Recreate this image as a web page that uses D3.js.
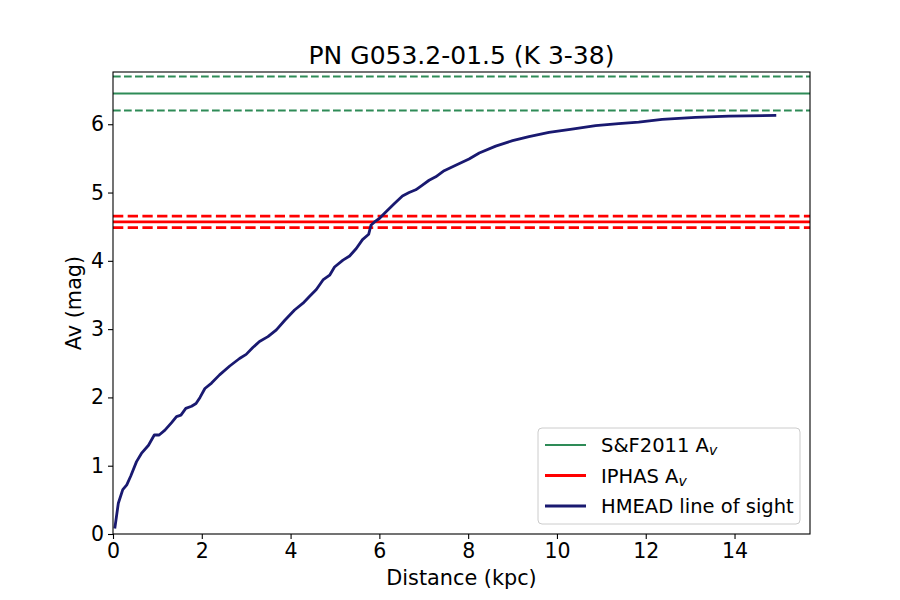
<!DOCTYPE html>
<html lang="en">
<head>
    <meta charset="utf-8">
    <title>PN G053.2-01.5</title>
    <script src="https://d3js.org/d3.v7.min.js"></script>
    <style>
        body { margin: 0; background: #fff; }
        text { font-family: "DejaVu Sans", sans-serif; }
    </style>
</head>
<body>
<script type="text/javascript">

    var w = 900;
    var h = 600;
    var margin = {top: 72, right: 90, bottom: 66, left: 113};

    // HMEAD line of sight: distance (kpc) and Av (mag)
    var distance = [0.04, 0.12, 0.22, 0.31, 0.40, 0.53, 0.64, 0.80, 0.93, 1.04, 1.17, 1.32, 1.43, 1.53, 1.64, 1.77, 1.87,
        1.96, 2.07, 2.22, 2.40, 2.63, 2.85, 3.00, 3.15, 3.30, 3.49, 3.68, 3.87, 4.09, 4.28, 4.43, 4.58, 4.73, 4.88,
        4.99, 5.18, 5.33, 5.48, 5.62, 5.76, 5.81, 5.89, 6.00, 6.15, 6.34, 6.52, 6.67, 6.82, 6.97, 7.12, 7.27, 7.46,
        7.72, 8.02, 8.25, 8.62, 9.00, 9.37, 9.82, 10.34, 10.87, 11.39, 11.84, 12.37, 13.12, 13.87, 14.94];
    var avLos = [0.08, 0.45, 0.65, 0.72, 0.85, 1.06, 1.18, 1.30, 1.45, 1.45, 1.52, 1.63, 1.72, 1.74, 1.84, 1.87, 1.91,
        2.00, 2.13, 2.21, 2.33, 2.46, 2.57, 2.63, 2.73, 2.82, 2.89, 2.99, 3.13, 3.28, 3.38, 3.48, 3.58, 3.72, 3.79,
        3.91, 4.01, 4.07, 4.18, 4.31, 4.39, 4.52, 4.57, 4.62, 4.72, 4.84, 4.95, 5.00, 5.04, 5.11, 5.18, 5.23, 5.32,
        5.40, 5.49, 5.58, 5.68, 5.76, 5.82, 5.88, 5.93, 5.98, 6.01, 6.03, 6.07, 6.10, 6.12, 6.13];

    // reference extinctions: value and error
    var sfAv = [6.45, 0.25];
    var iphasAv = [4.57, 0.085];

    var xTicks = [0, 2, 4, 6, 8, 10, 12, 14];
    var yTicks = [0, 1, 2, 3, 4, 5, 6];

    var legendLabels = ["S&F2011 A", "IPHAS A", "HMEAD line of sight"];
    var legendColors = ["#2e8b57", "red", "#191970"];

    var x = d3.scaleLinear().domain([0, 15.7]).range([margin.left, w - margin.right]);
    var y = d3.scaleLinear().domain([0, 6.765]).range([h - margin.bottom, margin.top]);

    var svg = d3.select("body")
        .append("svg")
        .attr("width", w)
        .attr("height", h);

    svg.append("clipPath").attr("id", "plotclip")
        .append("rect")
        .attr("x", margin.left).attr("y", margin.top)
        .attr("width", w - margin.left - margin.right)
        .attr("height", h - margin.top - margin.bottom);

    var plot = svg.append("g").attr("clip-path", "url(#plotclip)");

    function hline(val, color, width, dash) {
        plot.append("line")
            .attr("x1", margin.left).attr("x2", w - margin.right)
            .attr("y1", y(val)).attr("y2", y(val))
            .attr("stroke", color)
            .attr("stroke-width", width)
            .attr("stroke-dasharray", dash);
    }

    hline(sfAv[0], legendColors[0], 2, null);
    hline(sfAv[0] + sfAv[1], legendColors[0], 2, "7.7,3.3");
    hline(sfAv[0] - sfAv[1], legendColors[0], 2, "7.7,3.3");

    hline(iphasAv[0], legendColors[1], 2.8, null);
    hline(iphasAv[0] + iphasAv[1], legendColors[1], 2.8, "10.3,4.4");
    hline(iphasAv[0] - iphasAv[1], legendColors[1], 2.8, "10.3,4.4");

    var line = d3.line()
        .x(function (d, i) { return x(distance[i]); })
        .y(function (d) { return y(d); });

    plot.append("path")
        .datum(avLos)
        .attr("fill", "none")
        .attr("stroke", legendColors[2])
        .attr("stroke-width", 2.8)
        .attr("stroke-linejoin", "round")
        .attr("d", line);

    // axes
    var xAxis = svg.append("g")
        .attr("transform", "translate(0," + (h - margin.bottom) + ")")
        .call(d3.axisBottom(x).tickValues(xTicks).tickSize(5).tickPadding(4).tickFormat(d3.format("d")));
    var yAxis = svg.append("g")
        .attr("transform", "translate(" + margin.left + ",0)")
        .call(d3.axisLeft(y).tickValues(yTicks).tickSize(5).tickPadding(4).tickFormat(d3.format("d")));

    [xAxis, yAxis].forEach(function (a) {
        a.select(".domain").remove();
        a.selectAll("line").attr("stroke", "#000").attr("stroke-width", 1.1);
        a.selectAll("text").attr("font-size", 20.5).attr("fill", "#000")
            .style("font-family", "'DejaVu Sans', sans-serif");
    });

    svg.append("rect")
        .attr("x", margin.left).attr("y", margin.top)
        .attr("width", w - margin.left - margin.right)
        .attr("height", h - margin.top - margin.bottom)
        .attr("fill", "none")
        .attr("stroke", "#000")
        .attr("stroke-width", 1.1);

    svg.append("text")
        .attr("x", (margin.left + w - margin.right) / 2)
        .attr("y", 64)
        .attr("text-anchor", "middle")
        .attr("font-size", 25)
        .text("PN G053.2-01.5 (K 3-38)");

    svg.append("text")
        .attr("x", (margin.left + w - margin.right) / 2)
        .attr("y", 585)
        .attr("text-anchor", "middle")
        .attr("font-size", 20.8)
        .text("Distance (kpc)");

    svg.append("text")
        .attr("transform", "translate(81," + ((margin.top + h - margin.bottom) / 2) + ") rotate(-90)")
        .attr("text-anchor", "middle")
        .attr("font-size", 20.8)
        .text("Av (mag)");

    // legend
    var lg = svg.append("g");
    lg.append("rect")
        .attr("x", 538).attr("y", 428)
        .attr("width", 262).attr("height", 96)
        .attr("rx", 4)
        .attr("fill", "#fff").attr("fill-opacity", 0.8)
        .attr("stroke", "#ccc").attr("stroke-width", 1);

    legendLabels.forEach(function (lab, i) {
        var ly = 445 + i * 30.5;
        lg.append("line")
            .attr("x1", 545).attr("x2", 586)
            .attr("y1", ly).attr("y2", ly)
            .attr("stroke", legendColors[i])
            .attr("stroke-width", i === 0 ? 2 : 2.8);
        var t = lg.append("text")
            .attr("x", 601).attr("y", ly + 7)
            .attr("font-size", 19.5)
            .text(lab);
        if (i < 2) {
            t.append("tspan")
                .attr("font-size", 14)
                .attr("font-style", "italic")
                .attr("dy", 3)
                .text("v");
        }
    });

</script>
</body>
</html>
